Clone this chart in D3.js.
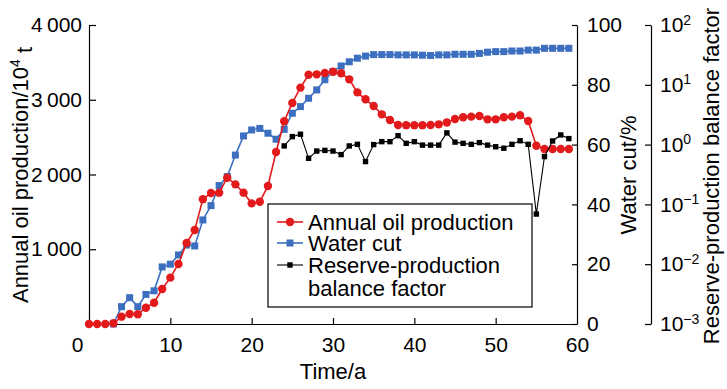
<!DOCTYPE html>
<html>
<head>
<meta charset="utf-8">
<script src="https://cdn.jsdelivr.net/npm/d3@7"></script>
<style>
  body { margin: 0; background: #fff; }
  svg { display: block; font-family: "Liberation Sans", Arial, sans-serif; }
  .axis path, .axis line { stroke: #000; stroke-width: 1.2; }
  .axis text { font-size: 21px; fill: #000; }
</style>
</head>
<body>
<svg id="chart" width="727" height="389"></svg>
<script>
// years 0..59
var years = [0,1,2,3,4,5,6,7,8,9,10,11,12,13,14,15,16,17,18,19,
             20,21,22,23,24,25,26,27,28,29,30,31,32,33,34,35,36,37,38,39,
             40,41,42,43,44,45,46,47,48,49,50,51,52,53,54,55,56,57,58,59];

// annual oil production, 10^4 t
var oil = [0,0,0,10,98,134,130,218,285,468,620,803,1084,1258,1670,1752,1757,1957,1868,1757,
           1614,1636,1846,2301,2712,2957,3162,3335,3340,3358,3375,3354,3273,3099,3006,2916,2805,2729,2662,2660,
           2660,2660,2662,2671,2695,2742,2765,2774,2783,2738,2738,2765,2774,2792,2716,2385,2341,2341,2341,2341];

// water cut, %
var water = [null,null,null,0,5.8,8.8,5.8,9.9,11.1,19.1,20.0,23.1,26.4,26.1,34.8,39.6,46.3,49.3,56.5,62.9,
             64.9,65.4,63.8,61.8,65.1,70.5,72.7,75.5,78.3,81.7,84.4,86.3,87.7,88.9,89.6,90.1,90.1,90.1,90.0,90.0,
             90.0,89.9,89.8,90.0,90.0,90.2,90.2,90.2,90.5,90.9,91.1,91.1,91.3,91.3,91.6,91.6,92.2,92.2,92.2,92.2];

// reserve-production balance factor
var balance = [null,null,null,null,null,null,null,null,null,null,null,null,null,null,null,null,null,null,null,null,
               null,null,null,null,0.95,1.36,1.49,0.59,0.78,0.80,0.78,0.68,0.95,1.01,0.52,1.0,1.12,1.12,1.41,1.05,
               1.12,0.98,0.98,0.98,1.57,1.10,1.05,1.01,1.08,0.98,0.92,0.87,1.01,1.16,1.01,0.069,0.63,1.15,1.45,1.26];

var xTicks = [0,10,20,30,40,50,60];
var oilTicks = [0,1000,2000,3000,4000];
var waterTicks = [0,20,40,60,80,100];
var balanceTicks = [1e-3,1e-2,1e-1,1,10,100];
var balanceExp = ["\u22123","\u22122","\u22121","0","1","2"];

var red = "#e31a1c", blue = "#3d6fc0";

var svg = d3.select("#chart");
var plotL = 89, plotR = 577, plotT = 25, plotB = 324;

var x = d3.scaleLinear().domain([0,60]).range([plotL,plotR]);
var yOil = d3.scaleLinear().domain([0,4000]).range([plotB,plotT]);
var yWater = d3.scaleLinear().domain([0,100]).range([plotB,plotT]);
var yBal = d3.scaleLog().domain([1e-3,1e2]).range([plotB,plotT]);

// axes
var gx = svg.append("g").attr("class","axis")
    .attr("transform","translate(0," + plotB + ")")
    .call(d3.axisBottom(x).tickValues(xTicks).tickSize(-6).tickSizeOuter(0).tickPadding(13));
gx.selectAll(".tick").filter(function(d){ return d === 60 || d === 0; }).select("line").remove();
gx.selectAll(".tick text").attr("dy","0.71em");
gx.selectAll(".tick").filter(function(d){ return d === 0; }).select("text").attr("x", -12);

var gl = svg.append("g").attr("class","axis")
    .attr("transform","translate(" + plotL + ",0)")
    .call(d3.axisLeft(yOil).tickValues(oilTicks).tickSize(-7).tickSizeOuter(0).tickPadding(7)
      .tickFormat(function(d){ return d === 0 ? "" : d3.format(",")(d).replace(",", "\u2009"); }));
gl.selectAll(".tick").filter(function(d){ return d === 0; }).remove();

var gw = svg.append("g").attr("class","axis")
    .attr("transform","translate(" + plotR + ",0)")
    .call(d3.axisRight(yWater).tickValues(waterTicks).tickSize(-5).tickSizeOuter(0).tickPadding(10));

var gb = svg.append("g").attr("class","axis")
    .attr("transform","translate(651,0)")
    .call(d3.axisRight(yBal).tickValues(balanceTicks).tickSize(-6).tickSizeOuter(0).tickPadding(9)
      .tickFormat(function(){ return ""; }));
gb.selectAll(".tick text").each(function(d, i) {
  var t = d3.select(this);
  t.append("tspan").text("10");
  t.append("tspan").attr("dy","-0.55em").style("font-size","14px").text(balanceExp[i]);
});

// axis titles
svg.append("text").attr("x", (plotL + plotR) / 2).attr("y", 379)
    .attr("text-anchor","middle").style("font-size","22px").text("Time/a");

var lt = svg.append("text").attr("transform","translate(28,175) rotate(-90)")
    .attr("text-anchor","middle").style("font-size","22px");
lt.append("tspan").text("Annual oil production/10");
lt.append("tspan").attr("dy","-0.55em").style("font-size","14px").text("4");
lt.append("tspan").attr("dy","0.55em").text(" t");

svg.append("text").attr("transform","translate(636,175) rotate(-90)")
    .attr("text-anchor","middle").style("font-size","22px").text("Water cut/%");

svg.append("text").attr("transform","translate(719,176) rotate(-90)")
    .attr("text-anchor","middle").style("font-size","22px").text("Reserve-production balance factor");

// series
var waterLine = d3.line().defined(function(d, i){ return water[i] != null; })
    .x(function(d){ return x(d); }).y(function(d, i){ return yWater(water[i]); });
svg.append("path").datum(years).attr("d", waterLine)
    .attr("fill","none").attr("stroke", blue).attr("stroke-width", 1.6);
svg.append("g").selectAll("rect").data(years.filter(function(d, i){ return water[i] != null; }))
  .enter().append("rect")
    .attr("x", function(d){ return x(d) - 3.5; })
    .attr("y", function(d){ return yWater(water[d]) - 3.5; })
    .attr("width", 7).attr("height", 7).attr("fill", blue);

var oilLine = d3.line().x(function(d){ return x(d); }).y(function(d, i){ return yOil(oil[i]); });
svg.append("path").datum(years).attr("d", oilLine)
    .attr("fill","none").attr("stroke", red).attr("stroke-width", 1.6);
svg.append("g").selectAll("circle").data(years).enter().append("circle")
    .attr("cx", function(d){ return x(d); })
    .attr("cy", function(d, i){ return yOil(oil[i]); })
    .attr("r", 4.2).attr("fill", red);

var balLine = d3.line().defined(function(d, i){ return balance[i] != null; })
    .x(function(d){ return x(d); }).y(function(d, i){ return yBal(balance[i]); });
svg.append("path").datum(years).attr("d", balLine)
    .attr("fill","none").attr("stroke","#000").attr("stroke-width", 1.1);
svg.append("g").selectAll("rect").data(years.filter(function(d, i){ return balance[i] != null; }))
  .enter().append("rect")
    .attr("x", function(d){ return x(d) - 2.7; })
    .attr("y", function(d){ return yBal(balance[d]) - 2.7; })
    .attr("width", 5.4).attr("height", 5.4).attr("fill","#000");

// legend
var lg = svg.append("g");
lg.append("rect").attr("x", 268).attr("y", 204).attr("width", 264).attr("height", 103)
    .attr("fill","#fff").attr("stroke","#000").attr("stroke-width", 1.2);
var items = [
  {label: ["Annual oil production"], color: red, shape: "circle", y: 222},
  {label: ["Water cut"], color: blue, shape: "square", y: 243},
  {label: ["Reserve-production", "balance factor"], color: "#000", shape: "small", y: 265}
];
items.forEach(function(it) {
  lg.append("line").attr("x1", 277).attr("x2", 303).attr("y1", it.y).attr("y2", it.y)
      .attr("stroke", it.color).attr("stroke-width", it.shape === "small" ? 1.1 : 1.6);
  if (it.shape === "circle") {
    lg.append("circle").attr("cx", 290).attr("cy", it.y).attr("r", 4.2).attr("fill", it.color);
  } else {
    var s = it.shape === "square" ? 7 : 5.4;
    lg.append("rect").attr("x", 290 - s / 2).attr("y", it.y - s / 2).attr("width", s).attr("height", s)
        .attr("fill", it.color);
  }
  it.label.forEach(function(t, j) {
    lg.append("text").attr("x", 308).attr("y", it.y + 7.5 + j * 23)
        .style("font-size","22px").text(t);
  });
});
</script>
</body>
</html>
